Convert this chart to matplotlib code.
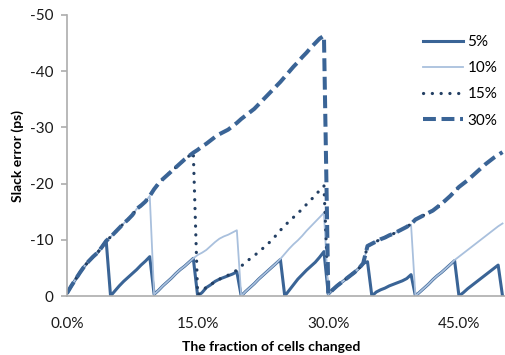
import numpy as np
import matplotlib
matplotlib.use("Agg")
import matplotlib.pyplot as plt
from matplotlib.ticker import FuncFormatter


FIGSIZE = (5.06, 3.55)
DPI = 100
FONT = ["Lato", "DejaVu Sans"]
AXIS_GRAY = "#ADADAD"

# fraction of cells changed (%), sampled every 0.5%
FRACTION = [i * 0.5 for i in range(101)]
X_TICKS = [0, 15, 30, 45]
Y_TICKS = [0, -10, -20, -30, -40, -50]
LABELS = ["5%", "10%", "15%", "30%"]

NAN = float("nan")

# slack error (ps) for each update granularity
SLACK_5 = [
    -0.5, -1.8, -3.0, -4.2, -5.3, -6.2, -7.0, -7.7, -8.7, -9.8,
    0.0, -0.9, -1.8, -2.6, -3.3, -4.0, -4.7, -5.5, -6.2, -7.0,
    -0.3, -1.0, -1.8, -2.5, -3.2, -4.0, -4.7, -5.3, -6.0, -6.7,
    0.0, -0.6, -1.5, -2.0, -2.6, -3.0, -3.3, -3.6, -3.9, -4.3,
    0.0, -0.8, -1.5, -2.2, -3.0, -3.7, -4.4, -5.1, -5.8, -6.5,
    0.0, -1.0, -2.0, -3.0, -3.8, -4.6, -5.3, -6.0, -6.9, -7.9,
    -0.3, -1.1, -1.8, -2.4, -3.0, -3.6, -4.2, -4.9, -5.8, -6.1,
    0.0, -0.7, -1.1, -1.4, -1.8, -2.1, -2.4, -2.7, -3.1, -3.8,
    0.0, -0.7, -1.4, -2.1, -2.9, -3.6, -4.2, -4.9, -5.6, -6.3,
    0.0, -0.6, -1.3, -1.9, -2.5, -3.1, -3.7, -4.3, -4.9, -5.5,
    0.0,
]

SLACK_10 = [
    -0.5, -1.8, -3.0, -4.2, -5.3, -6.2, -7.0, -7.7, -8.7, -9.8,
    -10.5, -11.3, -12.1, -12.9, -13.6, -14.4, -15.5, -16.1, -16.8, -17.8,
    -0.3, -1.0, -1.8, -2.5, -3.2, -4.0, -4.7, -5.3, -6.0, -6.7,
    -7.3, -7.7, -8.2, -8.9, -9.6, -10.2, -10.6, -10.9, -11.3, -11.7,
    0.0, -0.8, -1.5, -2.2, -3.0, -3.7, -4.4, -5.1, -5.8, -6.6,
    -7.5, -8.4, -9.2, -9.9, -10.7, -11.6, -12.4, -13.2, -14.0, -14.8,
    -0.3, -1.1, -1.8, -2.4, -3.0, -3.6, -4.2, -4.9, -5.8, -8.9,
    -9.3, -9.7, -10.1, -10.4, -10.8, -11.1, -11.5, -11.9, -12.3, -12.7,
    0.0, -0.7, -1.4, -2.1, -2.9, -3.6, -4.2, -4.9, -5.6, -6.4,
    -7.0, -7.6, -8.2, -8.8, -9.4, -10.0, -10.6, -11.2, -11.8, -12.4,
    -12.9,
]

SLACK_15 = [
    -0.5, -1.8, -3.0, -4.2, -5.3, -6.2, -7.0, -7.7, -8.7, -9.8,
    -10.5, -11.3, -12.1, -12.9, -13.6, -14.4, -15.5, -16.1, -16.8, -17.8,
    -19.0, -20.0, -20.8, -21.5, -22.2, -22.9, -23.6, -24.3, -24.9, -25.5,
    -0.2, -0.8, -1.6, -2.0, -2.6, -3.0, -3.3, -3.7, -4.1, -4.6,
    -5.3, -6.0, -6.6, -7.2, -7.8, -8.5, -9.2, -9.9, -10.8, -11.7,
    -12.5, -13.3, -14.0, -14.7, -15.5, -16.3, -17.1, -17.9, -18.8, -19.6,
    -0.3, -1.1, -1.8, -2.4, -3.0, -3.6, -4.2, -4.9, -5.8, -8.9,
    -9.3, -9.7, -10.1, -10.4, -10.8, -11.1, -11.5, -11.9, -12.3, -12.8,
    -13.6, -14.0, -14.4, -14.8, -15.2, -15.8, -16.4, -17.1, -17.8, -18.6,
    -19.4, NAN, NAN, NAN, NAN, NAN, NAN, NAN, NAN, NAN,
    NAN,
]

SLACK_30 = [
    -0.5, -1.8, -3.0, -4.2, -5.3, -6.2, -7.0, -7.7, -8.7, -9.8,
    -10.5, -11.3, -12.1, -12.9, -13.6, -14.4, -15.5, -16.1, -16.8, -17.8,
    -19.0, -20.0, -20.8, -21.5, -22.2, -22.9, -23.6, -24.3, -24.9, -25.5,
    -26.0, -26.6, -27.1, -27.7, -28.3, -28.8, -29.2, -29.6, -30.2, -30.8,
    -31.5, -32.1, -32.7, -33.3, -34.1, -34.9, -35.7, -36.5, -37.3, -38.1,
    -39.0, -39.9, -40.8, -41.6, -42.5, -43.3, -44.2, -45.0, -45.8, -46.3,
    -0.3, -1.1, -1.8, -2.4, -3.0, -3.6, -4.2, -4.9, -5.8, -8.9,
    -9.3, -9.7, -10.1, -10.4, -10.8, -11.1, -11.5, -11.9, -12.3, -12.8,
    -13.6, -14.0, -14.4, -14.8, -15.2, -15.8, -16.4, -17.1, -17.8, -18.6,
    -19.4, -20.0, -20.6, -21.3, -22.0, -22.7, -23.4, -24.0, -24.6, -25.1,
    -25.6,
]


def main():
    plt.rcParams["font.family"] = FONT
    plt.rcParams["axes.unicode_minus"] = False

    fig = plt.figure(figsize=FIGSIZE, dpi=DPI)
    W, H = 506, 355
    ax = fig.add_axes([67 / W, 1 - 296 / H, 1 - 67 / W, (296 - 15) / H])

    ax.plot(FRACTION, SLACK_5, color="#3A6496", lw=2.2,
            solid_joinstyle="round", label=LABELS[0])
    ax.plot(FRACTION, SLACK_10, color="#A9C0DD", lw=1.3,
            solid_joinstyle="round", label=LABELS[1])
    ax.plot(FRACTION, SLACK_15, color="#233F63", lw=2.3,
            linestyle=(0, (0.05, 2.7)), dash_capstyle="round",
            label=LABELS[2])
    ax.plot(FRACTION, SLACK_30, color="#3A6496", lw=2.9,
            linestyle=(0, (3.2, 1.4)), label=LABELS[3])

    # y runs from 0 at the bottom up to -50
    ax.set_ylim(0, -50)
    ax.set_xlim(0, 50.4)
    ax.set_yticks(Y_TICKS)
    ax.set_xticks(X_TICKS)
    ax.yaxis.set_major_formatter(FuncFormatter(lambda v, _: f"{int(v)}"))
    ax.xaxis.set_major_formatter(FuncFormatter(lambda v, _: f"{v:.1f}%"))

    for side in ["top", "right"]:
        ax.spines[side].set_visible(False)
    for side in ["left", "bottom"]:
        ax.spines[side].set_color(AXIS_GRAY)
        ax.spines[side].set_linewidth(1.2)

    ax.tick_params(axis="y", direction="out", length=4, width=1.2,
                   color=AXIS_GRAY, pad=6, labelsize=11, labelcolor="#1a1a1a")
    ax.tick_params(axis="x", length=0, pad=15, labelsize=11,
                   labelcolor="#1a1a1a")

    fig.text(18 / W, 1 - 156 / H, "Slack error (ps)", rotation=90,
             ha="center", va="center", fontsize=10, fontweight="bold")
    fig.text(271 / W, 1 - 347 / H, "The fraction of cells changed",
             ha="center", va="center", fontsize=10, fontweight="bold")

    ax.legend(loc="upper left", bbox_to_anchor=(423 / W, 1 - 35 / H),
              bbox_transform=fig.transFigure, frameon=False, fontsize=11,
              handlelength=2.6, handletextpad=0.3, labelspacing=0.8,
              borderpad=0, borderaxespad=0)

    fig.savefig("out.png", dpi=DPI)


if __name__ == "__main__":
    main()
